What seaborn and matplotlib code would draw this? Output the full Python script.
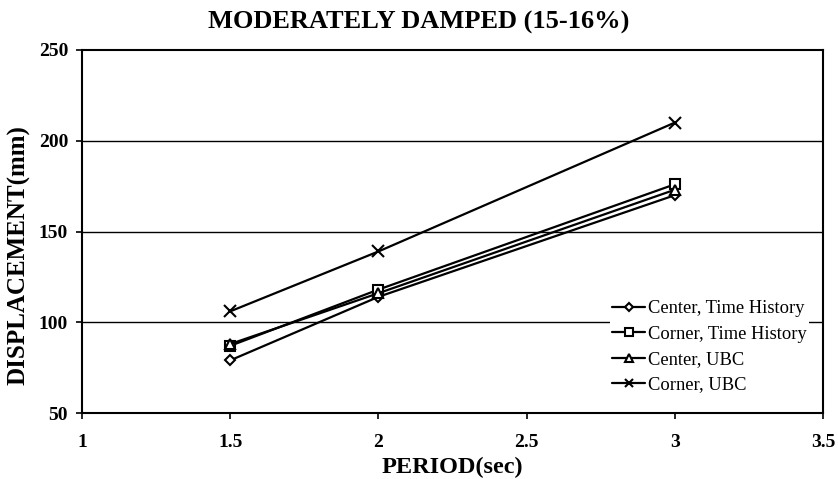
import numpy as np
import pandas as pd
import matplotlib
matplotlib.use("Agg")
import matplotlib.pyplot as plt
import seaborn as sns

# data
period = [1.5, 2, 3]
center_th = [79, 114, 170]
corner_th = [87, 118, 176]
center_ubc = [88, 116, 173]
corner_ubc = [106, 139, 210]

series_names = ["Center, Time History", "Corner, Time History", "Center, UBC", "Corner, UBC"]
series_vals = [center_th, corner_th, center_ubc, corner_ubc]

rows = []
for name, vals in zip(series_names, series_vals):
    for p, v in zip(period, vals):
        rows.append({"period": p, "disp": v, "series": name})
df = pd.DataFrame(rows)

sns.set_theme(style="white")
plt.rcParams['font.family'] = ['Liberation Serif', 'DejaVu Serif']
plt.rcParams['text.color'] = 'black'
plt.rcParams['axes.labelcolor'] = 'black'
plt.rcParams['xtick.color'] = 'black'
plt.rcParams['ytick.color'] = 'black'

fig = plt.figure(figsize=(8.38, 4.79), dpi=100)
ax = fig.add_axes([82/838, 1 - 413/479, (823-82)/838, (413-50)/479])

markers = {"Center, Time History": "D", "Corner, Time History": "s",
           "Center, UBC": "^", "Corner, UBC": "x"}
sizes = {"Center, Time History": 5, "Corner, Time History": 7,
         "Center, UBC": 7, "Corner, UBC": 8}

for name in series_names:
    sub = df[df["series"] == name]
    sns.lineplot(data=sub, x="period", y="disp", ax=ax, color="black", lw=1.6,
                 marker=markers[name], markersize=sizes[name],
                 markerfacecolor="white" if name != "Corner, UBC" else "black",
                 markeredgecolor="black", markeredgewidth=1.5, label=name)

ax.set_xlim(1, 3.5)
ax.set_ylim(50, 250)
ax.set_xticks([1, 1.5, 2, 2.5, 3, 3.5])
ax.set_xticklabels(["1", "1.5", "2", "2.5", "3", "3.5"])
ax.set_yticks([50, 100, 150, 200, 250])
for y in [100, 150, 200]:
    ax.axhline(y, color="black", lw=1.0, zorder=0)
for s in ax.spines.values():
    s.set_color("black")
    s.set_linewidth(1.5)
ax.tick_params(axis="both", direction="out", length=4, width=1.2, color="black",
               labelsize=14, labelcolor="black", bottom=True, left=True)
ax.tick_params(axis="x", pad=11)
ax.tick_params(axis="y", pad=6)
for lab in ax.get_xticklabels() + ax.get_yticklabels():
    lab.set_fontweight("bold")

ax.set_xlabel("PERIOD(sec)", fontsize=17.5, fontweight="bold", va="center", color="black")
ax.xaxis.set_label_coords(0.5, -0.149)
ax.set_ylabel("DISPLACEMENT(mm)", fontsize=18, fontweight="bold", va="center", color="black")
ax.yaxis.set_label_coords(-0.085, 0.435)
fig.text(0.5, 1 - 22/479, "MODERATELY DAMPED (15-16%)", fontsize=19,
         fontweight="bold", ha="center", va="center", color="black")

leg = ax.legend(loc="center left", bbox_to_anchor=(0.7126, 0.182), frameon=True,
                fontsize=13.3, handlelength=1.8, handletextpad=0.15, labelspacing=0.45,
                borderpad=0.1, borderaxespad=0, markerscale=0.8)
leg.get_frame().set_facecolor("white")
leg.get_frame().set_edgecolor("none")
leg.get_frame().set_alpha(1)
for t in leg.get_texts():
    t.set_color("black")

fig.savefig("out.png", dpi=100)
